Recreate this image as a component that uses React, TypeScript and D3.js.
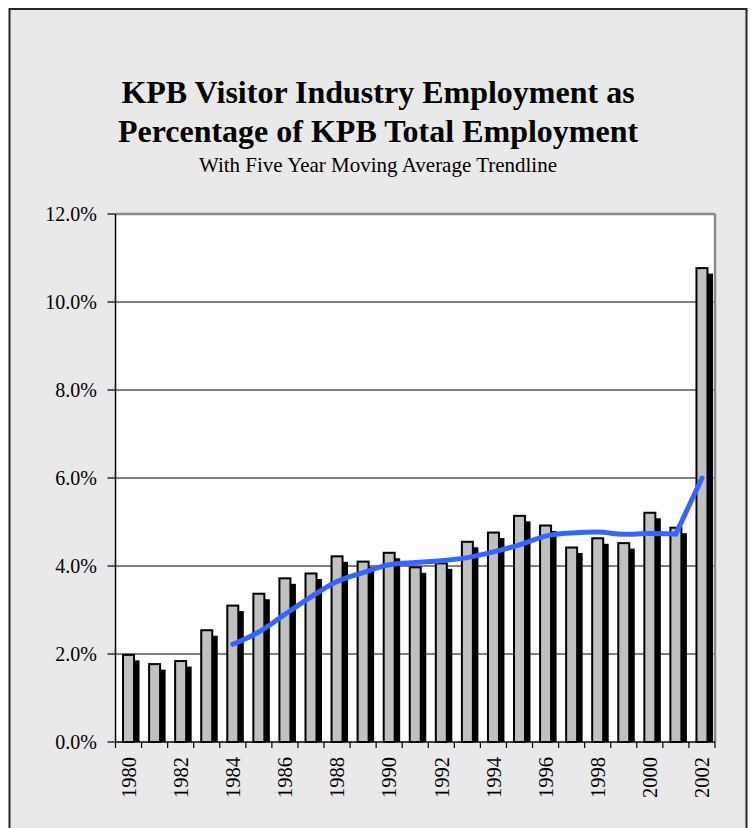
import React from 'react';
import * as d3 from 'd3';

const years = ['1980','1981','1982','1983','1984','1985','1986','1987','1988','1989','1990','1991','1992','1993','1994','1995','1996','1997','1998','1999','2000','2001','2002'];
const visitorShare = [1.98,1.77,1.84,2.54,3.10,3.37,3.72,3.83,4.22,4.10,4.30,3.97,4.06,4.55,4.76,5.14,4.92,4.42,4.63,4.52,5.21,4.87,10.77];
const trendYears = ['1984','1985','1986','1987','1988','1989','1990','1991','1992','1993','1994','1995','1996','1997','1998','1999','2000','2001','2002'];
const trendValues = [2.22,2.50,2.90,3.30,3.65,3.85,4.03,4.08,4.12,4.19,4.32,4.48,4.68,4.75,4.77,4.72,4.74,4.73,6.00];
const yTicks = [0,2,4,6,8,10,12];
const xLabelYears = ['1980','1982','1984','1986','1988','1990','1992','1994','1996','1998','2000','2002'];
const titleLines = ['KPB Visitor Industry Employment as','Percentage of KPB Total Employment'];
const subtitle = 'With Five Year Moving Average Trendline';

const W = 751, H = 828;
const L = 115.5, R = 715, T = 214, B = 742;
const FONT = '"Liberation Serif", "Times New Roman", Times, serif';

export default function App() {
  const x = d3.scaleBand<string>().domain(years).range([L, R]).paddingInner(0).paddingOuter(0);
  const y = d3.scaleLinear().domain([0, 12]).range([B, T]);
  const bw = 11;
  const sh = 5.5;
  const center = (yr: string) => (x(yr) as number) + x.bandwidth() / 2;
  const n = trendValues.length;
  const smooth = d3.line<number>()
    .x((_, i) => center(trendYears[i]))
    .y((d) => y(d))
    .curve(d3.curveMonotoneX);
  const straight = d3.line<number>()
    .x((_, i) => center(trendYears[n - 2 + i]))
    .y((d) => y(d));
  const bounds = years.map((yr) => x(yr) as number).concat([R]);

  return (
    <svg width={W} height={H} style={{ position: 'absolute', left: 0, top: 0, display: 'block' }} fontFamily={FONT}>
      <rect x={0} y={0} width={W} height={H} fill="#ffffff" />
      <rect x={9.5} y={9} width={737} height={H + 20} fill="#e9e9e9" stroke="#262626" strokeWidth={2} />
      {/* titles */}
      <text x={378} y={103} textAnchor="middle" fontSize={32} fontWeight="bold" fill="#000">{titleLines[0]}</text>
      <text x={378} y={142} textAnchor="middle" fontSize={32} fontWeight="bold" fill="#000">{titleLines[1]}</text>
      <text x={378} y={172} textAnchor="middle" fontSize={21} fill="#000">{subtitle}</text>
      {/* plot area */}
      <rect x={L} y={T} width={R - L} height={B - T} fill="#ffffff" />
      {yTicks.filter((t) => t > 0 && t < 12).map((t) => (
        <line key={'g' + t} x1={L} x2={R} y1={y(t)} y2={y(t)} stroke="#000" strokeWidth={1} />
      ))}
      {/* shadows */}
      {years.map((yr, i) => (
        <rect key={'s' + yr} x={center(yr) - bw / 2 + sh} y={y(visitorShare[i]) + sh} width={bw} height={B - y(visitorShare[i]) - sh} fill="#000" />
      ))}
      {/* bars */}
      {years.map((yr, i) => (
        <rect key={'b' + yr} x={center(yr) - bw / 2} y={y(visitorShare[i])} width={bw} height={B - y(visitorShare[i])} fill="#c0c0c0" stroke="#000" strokeWidth={2} />
      ))}
      {/* top and right borders */}
      <line x1={L} x2={R} y1={T} y2={T} stroke="#8a8a8a" strokeWidth={2.5} />
      <line x1={R} x2={R} y1={T} y2={B} stroke="#8a8a8a" strokeWidth={2.5} />
      {/* axes */}
      <line x1={L} x2={L} y1={T} y2={B} stroke="#000" strokeWidth={1.5} />
      <line x1={L} x2={R} y1={B} y2={B} stroke="#000" strokeWidth={1.5} />
      {yTicks.map((t) => (
        <g key={'yt' + t}>
          <line x1={L - 8} x2={L} y1={y(t)} y2={y(t)} stroke="#000" strokeWidth={1.2} />
          <text x={97} y={y(t)} dy="0.35em" textAnchor="end" fontSize={20} fill="#000">{t.toFixed(1) + '%'}</text>
        </g>
      ))}
      {bounds.map((bx, i) => (
        <line key={'xt' + i} x1={bx} x2={bx} y1={B} y2={B + 6} stroke="#000" strokeWidth={1.2} />
      ))}
      {xLabelYears.map((yr) => (
        <text key={'xl' + yr} transform={`translate(${center(yr)},757) rotate(-90)`} dy="0.35em" textAnchor="end" fontSize={20.5} fill="#000">{yr}</text>
      ))}
      {/* trend */}
      <path d={smooth(trendValues.slice(0, n - 1)) || ''} fill="none" stroke="#3366ff" strokeWidth={5} strokeLinejoin="round" strokeLinecap="round" />
      <path d={straight(trendValues.slice(n - 2)) || ''} fill="none" stroke="#3366ff" strokeWidth={5} strokeLinejoin="round" strokeLinecap="round" />
    </svg>
  );
}
